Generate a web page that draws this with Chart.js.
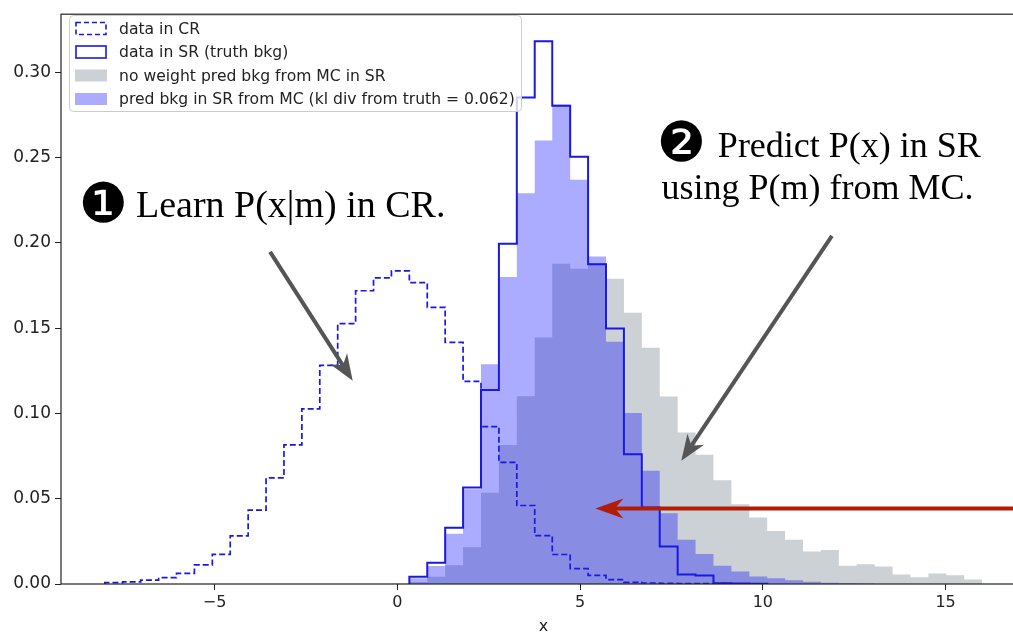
<!DOCTYPE html>
<html>
<head>
<meta charset="utf-8">
<script src="https://cdn.jsdelivr.net/npm/chart.js@4.4.0/dist/chart.umd.min.js"></script>
<style>
    html, body { margin: 0; padding: 0; background: #fff; overflow: hidden; }
    #wrap { position: absolute; left: 0; top: 0; width: 1030px; height: 636px; }
</style>
</head>
<body>
<div id="wrap"><canvas id="chart"></canvas></div>
<script>
// Shared bin edges (49 bins between -8 and 16)
const binEdges = [-8.00, -7.51, -7.02, -6.53, -6.04, -5.55, -5.06, -4.57, -4.08, -3.59,
    -3.10, -2.61, -2.12, -1.63, -1.14, -0.65, -0.16, 0.33, 0.82, 1.31,
    1.80, 2.29, 2.78, 3.27, 3.76, 4.24, 4.73, 5.22, 5.71, 6.20,
    6.69, 7.18, 7.67, 8.16, 8.65, 9.14, 9.63, 10.12, 10.61, 11.10,
    11.59, 12.08, 12.57, 13.06, 13.55, 14.04, 14.53, 15.02, 15.51, 16.00];

// data in CR
const crValues = [0.0008, 0.0013, 0.0023, 0.0037, 0.0062, 0.0112, 0.0174, 0.0282, 0.0433, 0.0622,
    0.0815, 0.1027, 0.1282, 0.1526, 0.1719, 0.1794, 0.1835, 0.1767, 0.1622, 0.1416,
    0.1188, 0.0923, 0.0713, 0.0460, 0.0284, 0.0173, 0.0090, 0.0050, 0.0026, 0.0010,
    0.0006, 0.0004, 0.0003, 0.0002, 0.0002, 0.0001, 0.0001, 0, 0, 0,
    0, 0, 0, 0, 0, 0, 0, 0, 0];

// data in SR (truth bkg)
const srValues = [0, 0, 0, 0, 0, 0, 0, 0, 0, 0,
    0, 0, 0, 0, 0, 0, 0, 0.0042, 0.0124, 0.0330,
    0.0566, 0.1137, 0.1995, 0.2852, 0.3181, 0.2804, 0.2505, 0.1875, 0.1497, 0.0761,
    0.0448, 0.0220, 0.0056, 0.0050, 0.0004, 0.0003, 0.0002, 0, 0, 0,
    0, 0, 0, 0, 0, 0, 0, 0, 0];

// no weight pred bkg from MC in SR
const mcValues = [0, 0, 0, 0, 0, 0, 0, 0, 0, 0,
    0, 0, 0, 0, 0, 0, 0.0003, 0.0012, 0.0042, 0.0110,
    0.0216, 0.0535, 0.0815, 0.1100, 0.1445, 0.1877, 0.1848, 0.1880, 0.1790, 0.1590,
    0.1385, 0.1099, 0.0888, 0.0757, 0.0608, 0.0467, 0.0390, 0.0311, 0.0260, 0.0190,
    0.0200, 0.0107, 0.0116, 0.0102, 0.0056, 0.0039, 0.0062, 0.0051, 0.0027];

// pred bkg in SR from MC (reweighted)
const predValues = [0, 0, 0, 0, 0, 0, 0, 0, 0, 0,
    0, 0, 0, 0, 0, 0, 0, 0.0033, 0.0105, 0.0294,
    0.0555, 0.1288, 0.1800, 0.2290, 0.2600, 0.2810, 0.2370, 0.1920, 0.1420, 0.1002,
    0.0664, 0.0415, 0.0259, 0.0176, 0.0107, 0.0073, 0.0044, 0.0033, 0.0022, 0.0013,
    0.0008, 0.0005, 0.0003, 0, 0, 0, 0, 0, 0];

const legendLabels = [
    'data in CR',
    'data in SR (truth bkg)',
    'no weight pred bkg from MC in SR',
    'pred bkg in SR from MC (kl div from truth = 0.062)'
];

const xTicks = [-5, 0, 5, 10, 15];
const yTicks = [0, 0.05, 0.10, 0.15, 0.20, 0.25, 0.30];

const lineBlue = 'rgb(25,25,225)';
const grayFill = 'rgb(203,209,212)';
const blueFill = 'rgba(0,0,255,0.33)';

// step outline of a histogram (step-post), trimmed to non-empty bins
function stepPoints(values) {
    let first = values.findIndex(v => v > 0);
    let last = values.length - 1;
    while (last > first && values[last] === 0) last--;
    const pts = [{ x: binEdges[first], y: 0 }];
    for (let i = first; i <= last; i++) {
        pts.push({ x: binEdges[i], y: values[i] });
    }
    pts.push({ x: binEdges[last + 1], y: 0 });
    return pts;
}

function fmtMinus(v) {
    return v < 0 ? '\u2212' + Math.abs(v) : String(v);
}

function drawArrow(ctx, x1, y1, x2, y2, color, width, headLen, headHalf) {
    const ang = Math.atan2(y2 - y1, x2 - x1);
    const c = Math.cos(ang), s = Math.sin(ang);
    const bx = x2 - c * headLen * 0.7, by = y2 - s * headLen * 0.7;
    ctx.save();
    ctx.strokeStyle = color;
    ctx.fillStyle = color;
    ctx.lineWidth = width;
    ctx.beginPath();
    ctx.moveTo(x1, y1);
    ctx.lineTo(bx, by);
    ctx.stroke();
    ctx.beginPath();
    ctx.moveTo(x2, y2);
    ctx.lineTo(x2 - c * headLen - s * headHalf, y2 - s * headLen + c * headHalf);
    ctx.lineTo(x2 - c * headLen * 0.7, y2 - s * headLen * 0.7);
    ctx.lineTo(x2 - c * headLen + s * headHalf, y2 - s * headLen - c * headHalf);
    ctx.closePath();
    ctx.fill();
    ctx.restore();
}

// frame + legend box on top of the bars
const framePlugin = {
    id: 'frameLegend',
    afterDatasetsDraw(chart) {
        const ctx = chart.ctx;
        const a = chart.chartArea;
        ctx.save();
        ctx.strokeStyle = '#222';
        ctx.lineWidth = 1.2;
        ctx.strokeRect(a.left, a.top, a.right - a.left, a.bottom - a.top);

        // legend
        const lx = 69, ly = 15, lw = 452, lh = 96;
        ctx.beginPath();
        ctx.roundRect(lx + 0.5, ly + 0.5, lw, lh, 4);
        ctx.fillStyle = 'rgba(255,255,255,0.8)';
        ctx.fill();
        ctx.strokeStyle = '#cccccc';
        ctx.lineWidth = 1;
        ctx.stroke();

        ctx.font = '15.6px "DejaVu Sans"';
        ctx.textBaseline = 'middle';
        legendLabels.forEach((label, i) => {
            const cy = ly + 13.5 + i * 23.5;
            const px = 75, pw = 32, ph = 12;
            if (i === 0 || i === 1) {
                ctx.strokeStyle = lineBlue;
                ctx.lineWidth = 1.6;
                ctx.setLineDash(i === 0 ? [5, 3] : []);
                ctx.strokeRect(px + 1, cy - ph / 2, pw - 2, ph);
                ctx.setLineDash([]);
            } else {
                ctx.fillStyle = i === 2 ? grayFill : blueFill;
                ctx.fillRect(px, cy - ph / 2, pw, ph);
            }
            ctx.fillStyle = '#222';
            ctx.fillText(label, 119, cy + 1);
        });
        ctx.restore();
    },
    afterDraw(chart) {
        const ctx = chart.ctx;
        const xs = chart.scales.x, ys = chart.scales.y;
        const px = v => xs.getPixelForValue(v);
        const py = v => ys.getPixelForValue(v);
        ctx.save();

        // circled step numbers
        ctx.fillStyle = '#000';
        ctx.font = '55px "DejaVu Sans"';
        [['\u2776', -8.03, 0.224], ['\u2777', 7.78, 0.2596]].forEach(([t, x, y]) => {
            const m = ctx.measureText(t);
            const cx = px(x) - (m.actualBoundingBoxRight - m.actualBoundingBoxLeft) / 2;
            const cy = py(y) + (m.actualBoundingBoxAscent - m.actualBoundingBoxDescent) / 2;
            ctx.fillText(t, cx, cy);
        });

        ctx.font = '38px "Liberation Serif"';
        ctx.fillText('Learn P(x|m) in CR.', px(-7.15), py(0.215));
        ctx.font = '36px "Liberation Serif"';
        ctx.fillText('Predict P(x) in SR', px(8.77), py(0.2505));
        ctx.fillText('using P(m) from MC.', px(7.23), py(0.2254));

        // arrows
        drawArrow(ctx, px(-3.48), py(0.1947), px(-1.22), py(0.1192), '#555', 4, 26, 10);
        drawArrow(ctx, px(11.89), py(0.204), px(7.77), py(0.0722), '#555', 4, 26, 10);
        drawArrow(ctx, px(17.2), py(0.0442), px(5.42), py(0.0442), 'rgb(178,30,5)', 4, 28, 10);
        ctx.restore();
    }
};

const ctx = document.getElementById('chart').getContext('2d');
new Chart(ctx, {
    type: 'line',
    data: {
        datasets: [
            {
                label: legendLabels[0],
                data: stepPoints(crValues),
                stepped: true,
                borderColor: lineBlue,
                borderWidth: 1.7,
                borderDash: [6, 3],
                fill: false,
                pointRadius: 0,
                order: 0
            },
            {
                label: legendLabels[1],
                data: stepPoints(srValues),
                stepped: true,
                borderColor: lineBlue,
                borderWidth: 2,
                fill: false,
                pointRadius: 0,
                order: 1
            },
            {
                label: legendLabels[3],
                data: stepPoints(predValues),
                stepped: true,
                borderColor: 'transparent',
                borderWidth: 0,
                backgroundColor: blueFill,
                fill: 'origin',
                pointRadius: 0,
                order: 2
            },
            {
                label: legendLabels[2],
                data: stepPoints(mcValues),
                stepped: true,
                borderColor: 'transparent',
                borderWidth: 0,
                backgroundColor: grayFill,
                fill: 'origin',
                pointRadius: 0,
                order: 3
            }
        ]
    },
    options: {
        responsive: true,
        maintainAspectRatio: false,
        animation: false,
        layout: { padding: { top: 8, right: 4, left: 0, bottom: 0 } },
        plugins: {
            legend: { display: false },
            tooltip: { enabled: false }
        },
        scales: {
            x: {
                type: 'linear',
                min: -9.2,
                max: 17.2,
                afterFit: s => { s.height = 52; },
                afterBuildTicks: s => { s.ticks = xTicks.map(v => ({ value: v })); },
                grid: { drawOnChartArea: false, drawTicks: true, tickLength: 6, color: '#222' },
                border: { display: false },
                ticks: {
                    color: '#222',
                    font: { family: 'DejaVu Sans', size: 16 },
                    padding: 3,
                    maxRotation: 0,
                    callback: v => fmtMinus(v)
                },
                title: {
                    display: true,
                    text: 'x',
                    color: '#222',
                    font: { family: 'DejaVu Sans', size: 16 },
                    padding: { top: 0, bottom: 0 }
                }
            },
            y: {
                min: 0,
                max: 0.334,
                afterFit: s => { s.width = 61; },
                afterBuildTicks: s => { s.ticks = yTicks.map(v => ({ value: v })); },
                grid: { drawOnChartArea: false, drawTicks: true, tickLength: 6, color: '#222' },
                border: { display: false },
                ticks: {
                    color: '#222',
                    font: { family: 'DejaVu Sans', size: 17 },
                    padding: 4,
                    callback: v => v.toFixed(2)
                }
            }
        }
    },
    plugins: [framePlugin]
});
</script>
</body>
</html>
